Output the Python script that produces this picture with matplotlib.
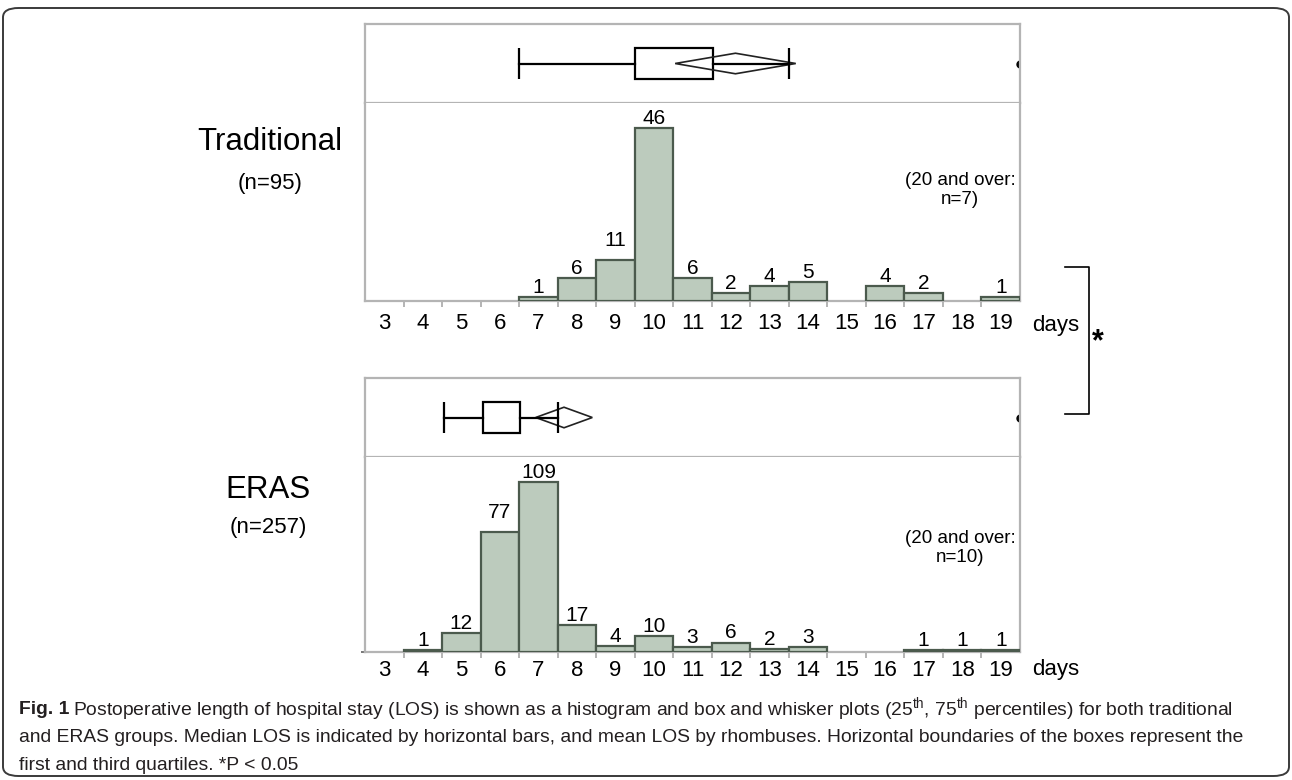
import matplotlib
matplotlib.use('Agg')
import matplotlib.pyplot as plt
from matplotlib.patches import Rectangle, Polygon, FancyBboxPatch
from matplotlib.lines import Line2D

# histogram data (days 3..19, counts per day)
days = list(range(3, 20))
trad_counts = [0, 0, 0, 0, 1, 6, 11, 46, 6, 2, 4, 5, 0, 4, 2, 0, 1]
eras_counts = [0, 1, 12, 77, 109, 17, 4, 10, 3, 6, 2, 3, 0, 0, 1, 1, 1]

# box/whisker summaries on the same day axis
# (whisker low, Q1, Q3, whisker high, mean-diamond low, mean-diamond high)
trad_box = [7.0, 10.0, 12.03, 14.0, 11.05, 14.18]
eras_box = [5.05, 6.05, 7.03, 8.0, 7.43, 8.9]

groups = ['Traditional', 'ERAS']
group_n = [95, 257]
over20_n = [7, 10]

plt.rcParams['font.family'] = ['Liberation Sans', 'DejaVu Sans']
plt.rcParams['mathtext.fontset'] = 'custom'
plt.rcParams['mathtext.rm'] = 'Liberation Sans'
plt.rcParams['mathtext.bf'] = 'Liberation Sans:bold'

W, H = 1292, 780
fig = plt.figure(figsize=(W/100, H/100), dpi=100)


def fx(px):
    return px/W


def fy(py):
    return 1 - py/H


spine_c = '#b4b4b4'
bar_face = '#bccbbd'
bar_edge = '#4b5a4d'


def box_panel(ax, stats):
    wlo, q1, q3, whi, mlo, mhi = stats
    ax.set_xlim(3, 20)
    ax.set_ylim(0, 1)
    ax.set_xticks([])
    ax.set_yticks([])
    for s in ax.spines.values():
        s.set_color(spine_c)
        s.set_linewidth(1.6)
    ax.plot([wlo, q1], [0.5, 0.5], color='k', lw=1.6)
    ax.plot([q3, whi], [0.5, 0.5], color='k', lw=1.6)
    ax.vlines([wlo, whi], 0.31, 0.69, color='k', lw=1.6)
    ax.add_patch(Rectangle((q1, 0.3), q3-q1, 0.4, fill=False,
                           edgecolor='k', lw=1.6))
    mc = (mlo+mhi)/2
    ax.add_patch(Polygon([[mlo, 0.5], [mc, 0.63], [mhi, 0.5], [mc, 0.37]],
                         closed=True, fill=False, edgecolor='#222222', lw=1.2))
    ax.plot([20], [0.5], 'o', color='k', ms=5, clip_on=True)


def hist_panel(ax, counts, ymax, pad, lift, left_tick):
    ax.set_xlim(3, 20)
    ax.set_ylim(0, ymax)
    for d, c in zip(days, counts):
        if c == 0:
            continue
        ax.bar(d, c, width=1, align='edge', color=bar_face,
               edgecolor=bar_edge, lw=1.6, zorder=3)
        ax.annotate(str(c), (d+0.5, c), xytext=(0, 3+lift.get(d, 0)),
                    textcoords='offset points', ha='center', va='baseline',
                    fontsize=15)
    ax.spines['top'].set_visible(False)
    for s in ['left', 'right', 'bottom']:
        ax.spines[s].set_color(spine_c)
        ax.spines[s].set_linewidth(1.6)
    ax.set_xticks(range(4, 20))
    ax.set_xticklabels([])
    ax.set_xticks([d+0.5 for d in days], minor=True)
    ax.set_xticklabels([str(d) for d in days], minor=True, fontsize=16)
    ax.tick_params(axis='x', which='major', length=4, width=1.4,
                   color=spine_c, direction='out')
    ax.tick_params(axis='x', which='minor', length=0, pad=pad)
    if left_tick:
        ax.set_yticks([0])
        ax.set_yticklabels([])
        ax.tick_params(axis='y', length=3, width=1.4, color='#777777')
    else:
        ax.set_yticks([])


ax_tb = fig.add_axes([fx(365), fy(103), 655/W, 79/H])
ax_th = fig.add_axes([fx(365), fy(301), 655/W, 198/H])
ax_eb = fig.add_axes([fx(365), fy(457), 655/W, 79/H])
ax_eh = fig.add_axes([fx(365), fy(652), 655/W, 195/H])

box_panel(ax_tb, trad_box)
box_panel(ax_eb, eras_box)
hist_panel(ax_th, trad_counts, 52.65, 9, {9: 7}, False)
hist_panel(ax_eh, eras_counts, 125, 6, {6: 7}, True)

# group labels
fig.text(fx(270), fy(142), groups[0], fontsize=22.5, ha='center', va='center')
fig.text(fx(270), fy(183), f'(n={group_n[0]})', fontsize=16, ha='center', va='center')
fig.text(fx(268), fy(490), groups[1], fontsize=22.5, ha='center', va='center')
fig.text(fx(268), fy(527), f'(n={group_n[1]})', fontsize=16, ha='center', va='center')

fig.text(fx(960), fy(190), f'(20 and over:\nn={over20_n[0]})', fontsize=13.5,
         ha='center', va='center', linespacing=1.1)
fig.text(fx(960), fy(548), f'(20 and over:\nn={over20_n[1]})', fontsize=13.5,
         ha='center', va='center', linespacing=1.1)

fig.text(fx(1032), fy(325), 'days', fontsize=16, ha='left', va='center')
fig.text(fx(1032), fy(670), 'days', fontsize=16, ha='left', va='center')

# significance bracket
fig.add_artist(Line2D([fx(1065), fx(1089), fx(1089), fx(1065)],
                      [fy(267), fy(267), fy(414), fy(414)],
                      color='k', lw=1.2, transform=fig.transFigure))
fig.text(fx(1098), fy(342), '*', fontsize=22, fontweight='bold',
         ha='center', va='center')

# outer frame
fig.add_artist(FancyBboxPatch((fx(3), fy(776)), fx(1286), 768/H,
                              boxstyle='round,pad=0,rounding_size=0.012',
                              transform=fig.transFigure, fill=False,
                              edgecolor='#3a3a3a', lw=1.4))

# caption
cap_fs = 13.9
cap_c = '#231f20'
fig_lbl = fig.text(fx(19), fy(710), 'Fig. 1', fontsize=cap_fs, color=cap_c,
                   fontweight='bold', ha='left', va='center')
fig.canvas.draw()
bb = fig_lbl.get_window_extent()
cap = [r' Postoperative length of hospital stay (LOS) is shown as a histogram and box and whisker plots (25$^{\rm th}$, 75$^{\rm th}$ percentiles) for both traditional',
       'and ERAS groups. Median LOS is indicated by horizontal bars, and mean LOS by rhombuses. Horizontal boundaries of the boxes represent the',
       'first and third quartiles. *P < 0.05']
fig.text(fx(bb.x1 + 4), fy(710), cap[0].strip(), fontsize=cap_fs, color=cap_c,
         ha='left', va='center')
for i, line in enumerate(cap[1:], start=1):
    fig.text(fx(19), fy(710+27.5*i), line, fontsize=cap_fs, color=cap_c,
             ha='left', va='center')

fig.savefig('out.png', dpi=100)
